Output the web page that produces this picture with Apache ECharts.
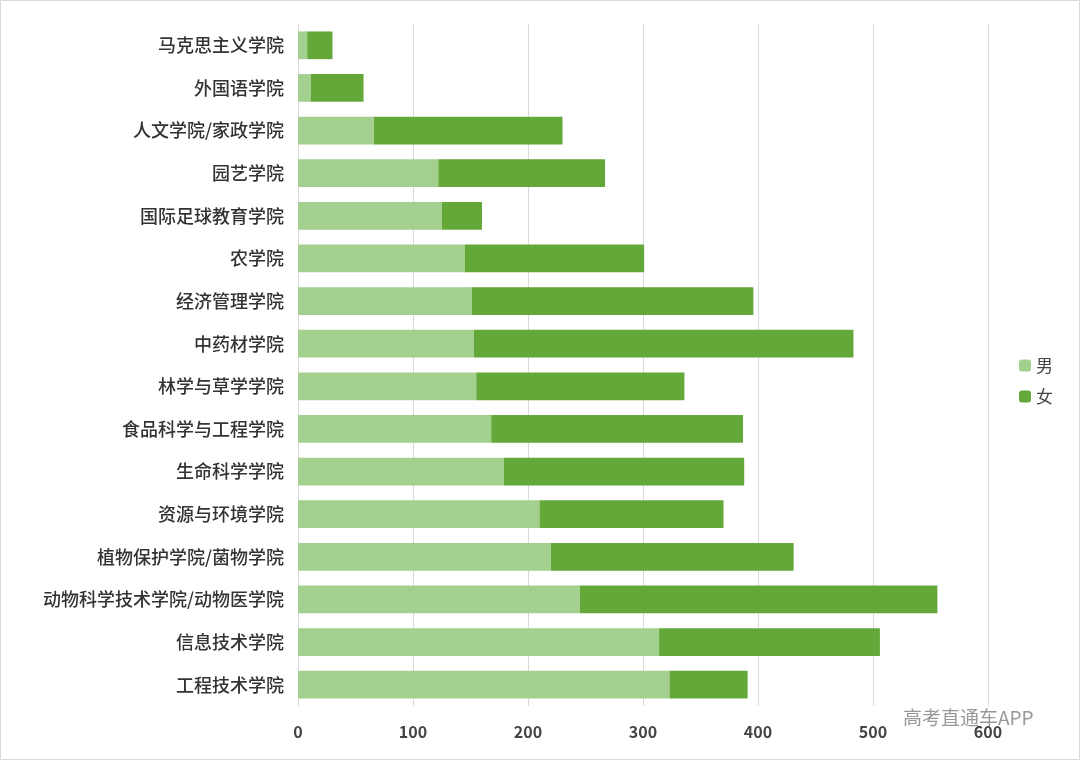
<!DOCTYPE html>
<html><head><meta charset="utf-8">
<script src="https://cdn.jsdelivr.net/npm/echarts@6/dist/echarts.min.js"></script>
<style>html,body{margin:0;background:#fff}#root{width:1080px;height:760px}</style>
</head><body><div id="root"></div>
<script>
var categories = ['马克思主义学院','外国语学院','人文学院/家政学院','园艺学院','国际足球教育学院','农学院','经济管理学院','中药材学院','林学与草学学院','食品科学与工程学院','生命科学学院','资源与环境学院','植物保护学院/菌物学院','动物科学技术学院/动物医学院','信息技术学院','工程技术学院'];
var male   = [8, 11, 66, 122, 125, 145, 151, 153, 155, 168, 179, 210, 220, 245, 314, 323];
var female = [22, 46, 164, 145, 35, 156, 245, 330, 181, 219, 209, 160, 211, 311, 192, 68];
var xTicks = [0, 100, 200, 300, 400, 500, 600];

var chart = echarts.init(document.getElementById('root'));
chart.setOption({
	animation: false,
	grid: { left: 298, right: 92, top: 24, bottom: 54 },
	legend: {
		orient: 'vertical', right: 22, top: 352, itemWidth: 12, itemHeight: 12, itemGap: 14,
		textStyle: { fontSize: 17, color: '#444', fontFamily: 'Noto Sans CJK SC' },
		data: ['男', '女']
	},
	xAxis: {
		type: 'value', min: xTicks[0], max: xTicks[xTicks.length - 1], interval: 100,
		axisLine: { show: false }, axisTick: { show: false },
		splitLine: { lineStyle: { color: '#d9d9d9' } },
		axisLabel: { fontSize: 16, color: '#444', fontWeight: 'bold', fontFamily: 'Noto Sans CJK SC', margin: 18 }
	},
	yAxis: {
		type: 'category', data: categories, inverse: true,
		axisLine: { lineStyle: { color: '#d9d9d9' } }, axisTick: { show: false },
		axisLabel: { fontSize: 18, color: '#333', fontWeight: 500, fontFamily: 'Noto Sans CJK SC', margin: 14 }
	},
	series: [
		{ name: '男', type: 'bar', stack: 't', data: male, barCategoryGap: '35%', itemStyle: { color: '#a3d08e' } },
		{ name: '女', type: 'bar', stack: 't', data: female, itemStyle: { color: '#65a83a' } }
	],
	graphic: [
		{ type: 'rect', shape: { x: 0.5, y: 0.5, width: 1079, height: 759 }, style: { fill: 'none', stroke: '#d9d9d9' } },
		{ type: 'text', left: 903, top: 708, style: { text: '高考直通车APP', fontSize: 19, fill: '#999', fontFamily: 'Noto Sans CJK SC' } }
	]
});
</script></body></html>
